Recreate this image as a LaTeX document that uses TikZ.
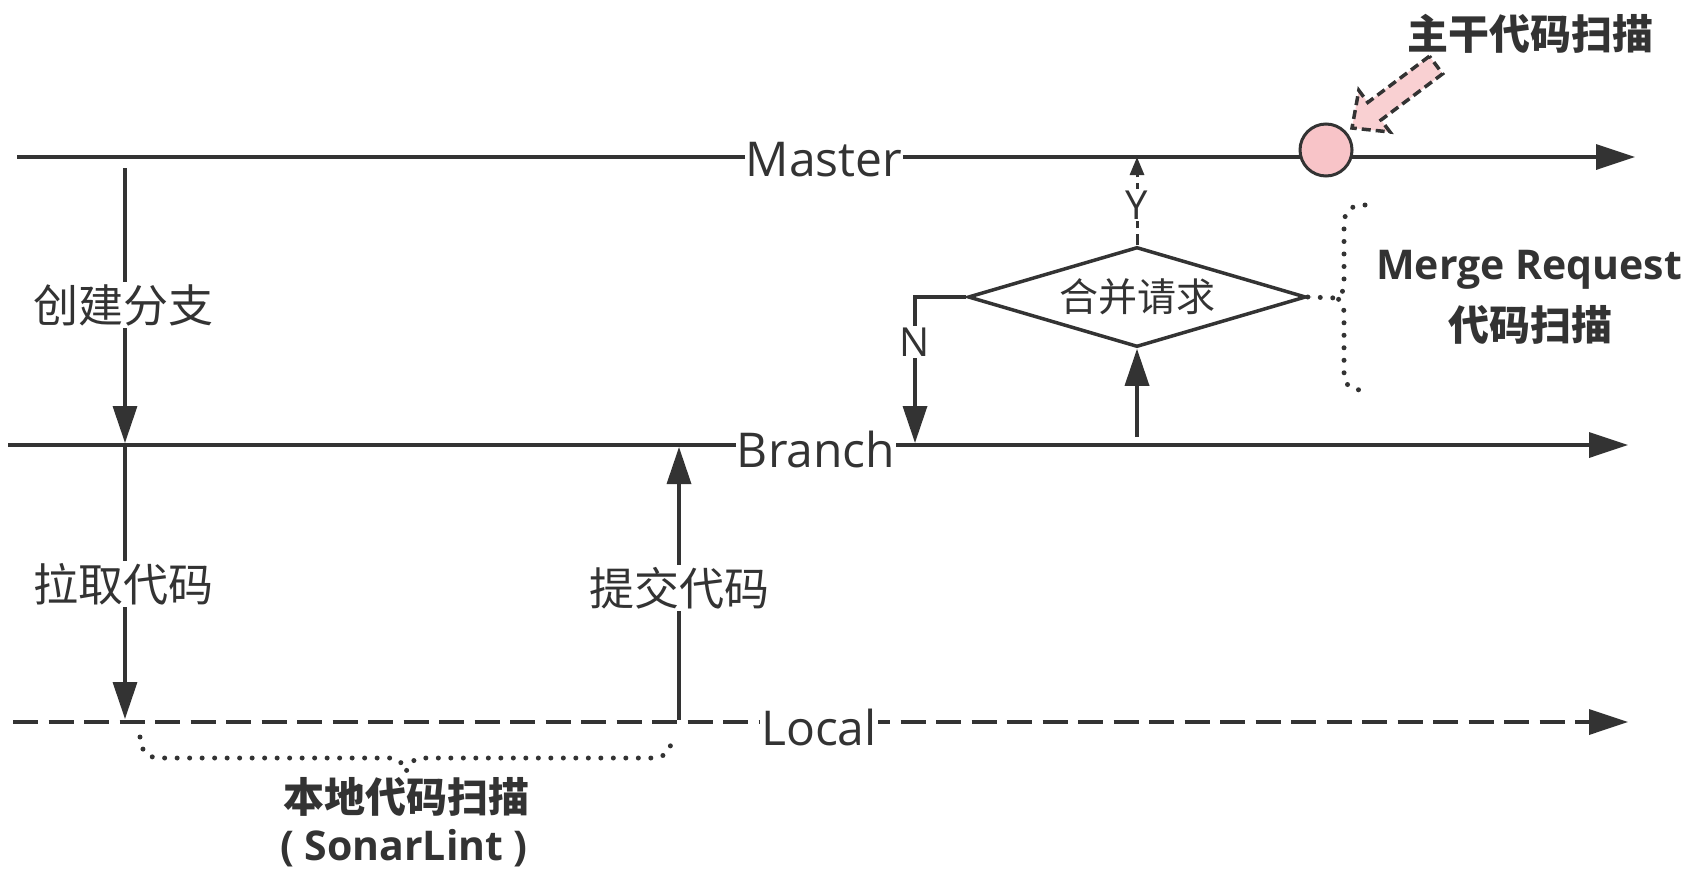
\documentclass[tikz,border=0pt]{standalone}
\usepackage{fontspec}
\setmainfont{Open Sans}
\newfontfamily\cjk{Noto Sans CJK SC}
\usetikzlibrary{arrows.meta,shapes.geometric}
\definecolor{ink}{HTML}{333333}
\definecolor{pinkc}{HTML}{F8C4C8}
\definecolor{pinka}{HTML}{F9D0D2}
\begin{document}
\begin{tikzpicture}[x=1pt,y=-1pt,line width=3.5pt,color=ink,
  endtip/.style={-{Triangle[length=39pt,width=25pt]}},
  bigtip/.style={-{Triangle[length=37pt,width=24pt]}},
  smalltip/.style={-{Triangle[length=18pt,width=14pt]}},
  lbl/.style={fill=white,inner sep=2pt,text=ink},
  cjkL/.style={lbl,font=\cjk\fontsize{45}{50}\selectfont},
  latL/.style={lbl,inner sep=1pt,font=\fontsize{48}{50}\selectfont},
  latS/.style={lbl,inner sep=2pt,font=\fontsize{40}{44}\selectfont},
  cjkB/.style={text=ink,font=\cjk\bfseries\fontsize{41}{45}\selectfont},
  latB/.style={text=ink,font=\bfseries\fontsize{41}{44}\selectfont},
  dotsty/.style={line width=5pt,line cap=round,dash pattern=on 0pt off 12.5pt},
  localdash/.style={dash pattern=on 25pt off 10.5pt}]
\useasboundingbox (0,0) rectangle (1696,870);

% main lines
\coordinate (mS) at (17,157);  \coordinate (mE) at (1635,157);
\coordinate (bS) at (8,445);   \coordinate (bE) at (1628,445);
\coordinate (lS) at (13,722);  \coordinate (lE) at (1628,722);
\draw[endtip] (mS) -- (mE);
\draw[endtip] (bS) -- (bE);
\draw[endtip,localdash] (lS) -- (lE);
\node[latL] (master) at (824,160) {Master};
\node[latL] (branch) at (816,449) {Branch};
\node[latL] (local) at (819,727) {Local};

% master scan marker
\node[circle,draw=ink,fill=pinkc,minimum size=52pt,inner sep=0pt,line width=3pt] (scan) at (1326,150) {};
\draw[fill=pinka,line width=3.5pt,dash pattern=on 9pt off 5pt]
  (1429.4,56.2) -- (1367.8,102.4) -- (1358.8,90.4) -- (1352,128) -- (1390,132) -- (1381,120) -- (1442.6,73.8) -- cycle;
\node[cjkB] (mainscan) at (1530,34) {主干代码扫描};

% create branch
\coordinate (a1s) at (125,168); \coordinate (a1e) at (125,443);
\draw[bigtip] (a1s) -- (a1e);
\node[cjkL] (create) at (123,305) {创建分支};

% pull
\coordinate (a2s) at (125,447); \coordinate (a2e) at (125,719);
\draw[bigtip] (a2s) -- (a2e);
\node[cjkL] (pull) at (123,584) {拉取代码};

% commit
\coordinate (a3s) at (679,720); \coordinate (a3e) at (679,447);
\draw[bigtip] (a3s) -- (a3e);
\node[cjkL] (commit) at (679,588) {提交代码};

% merge request
\node[diamond,draw=ink,aspect=3.38,minimum width=338pt,minimum height=100pt,inner sep=0pt,
  line width=3.5pt,text=ink,font=\cjk\fontsize{39}{42}\selectfont] (mr) at (1137,297) {合并请求};
\coordinate (uS) at (1137,437);
\draw[bigtip] (uS) -- (mr.south);
\draw[smalltip,line width=3pt,dash pattern=on 11pt off 6pt] (mr.north) -- (mr.north |- mS);
\node[latS] (yes) at (1137,205) {Y};
\coordinate (nB) at (915,443);
\draw[bigtip] (mr.west) -| (nB);
\node[latS] (no) at (915,342) {N};

% merge request scan brace
\coordinate (brT) at (1336,298);
\draw[dotsty] (mr.east) -- (brT);
\draw[dotsty] (1365,205) .. controls (1350,205) and (1344,211) .. (1344,226) -- (1344,282)
  .. controls (1344,292) and (1340,297) .. (brT)
  .. controls (1340,299) and (1344,304) .. (1344,314) -- (1344,372)
  .. controls (1344,385) and (1350,390) .. (1363,390);
\node[latB] (mrt) at (1529,270) {Merge Request};
\node[cjkB] (mrt2) at (1530,325) {代码扫描};

% local scan brace
\draw[dotsty] (140,737) .. controls (141,750) and (146,758) .. (160,758) -- (390,758)
  .. controls (398,758) and (403,763) .. (406,772)
  .. controls (409,763) and (414,758) .. (422,758) -- (652,758)
  .. controls (666,758) and (671,750) .. (672,737);
\node[cjkB] (lscan) at (406,797) {本地代码扫描};
\node[latB] (sonar) at (404,848) {( SonarLint )};
\end{tikzpicture}
\end{document}
